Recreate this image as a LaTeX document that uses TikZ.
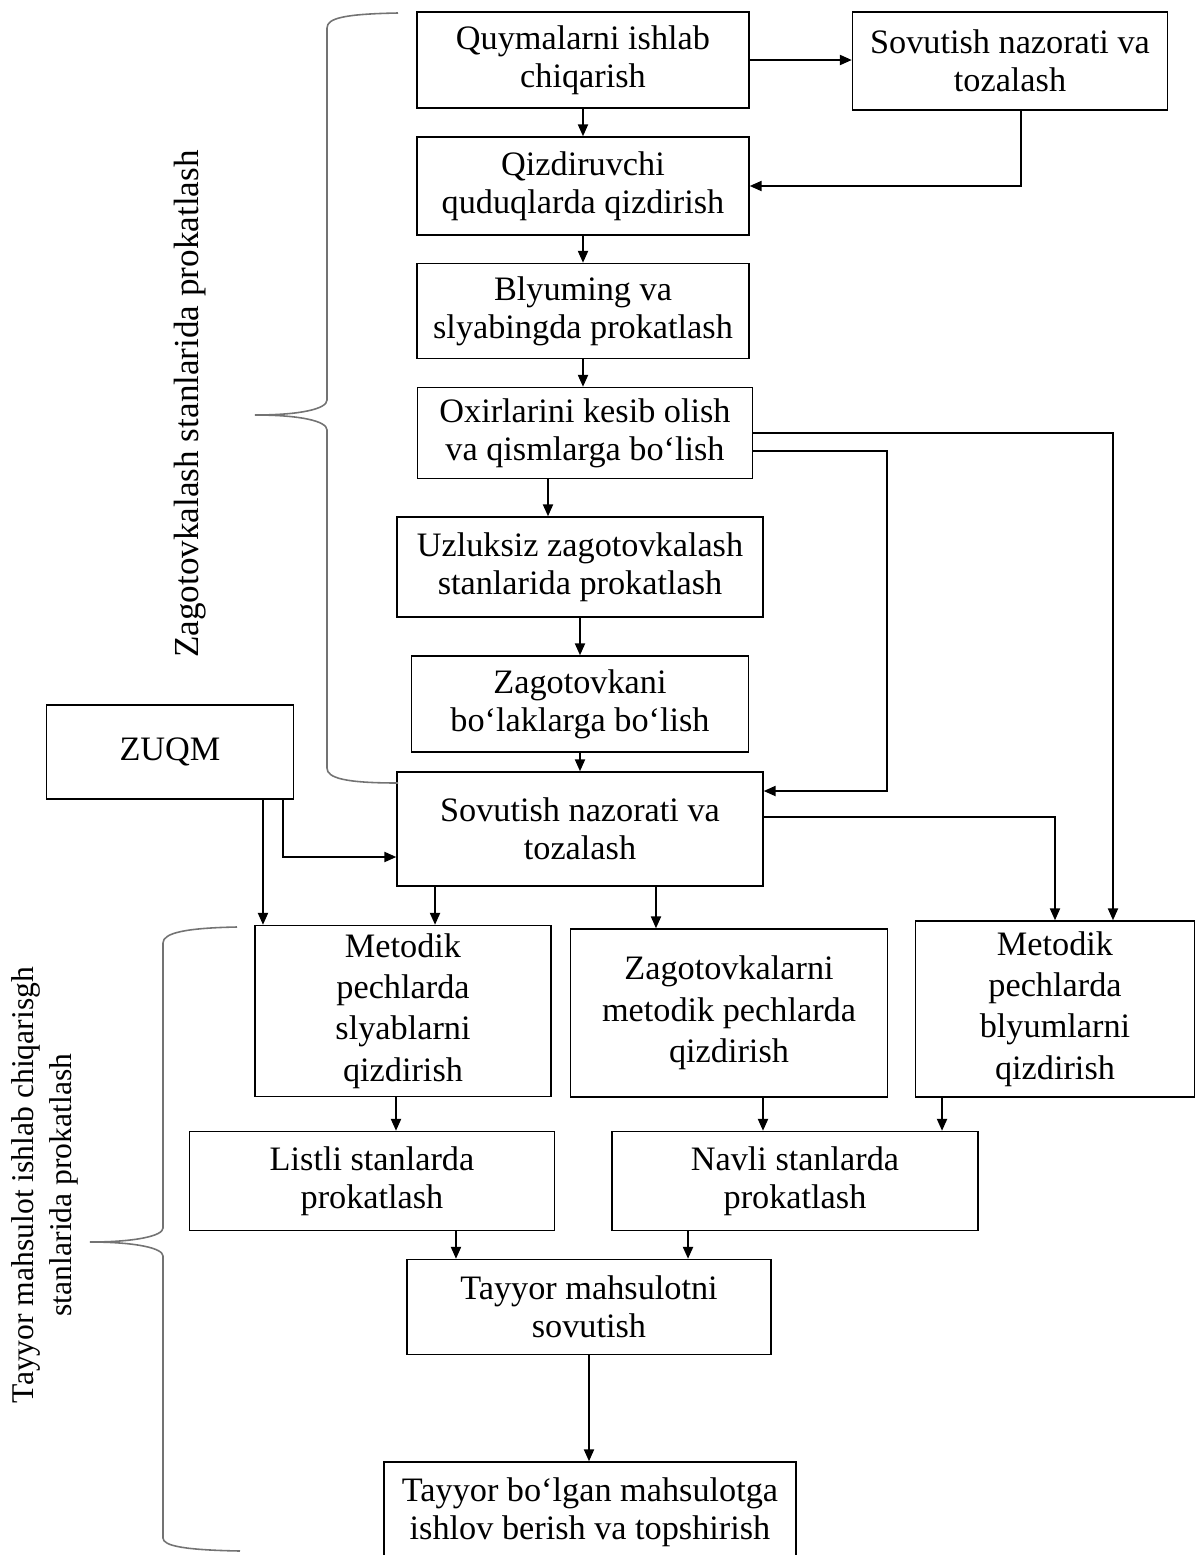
\documentclass[tikz,border=0pt]{standalone}
\usepackage{fontspec}
\setmainfont{Liberation Serif}
\usepackage{tikz}
\usetikzlibrary{arrows.meta}
\usetikzlibrary{positioning}

\tikzset{
  blok/.style={draw,line width=0.8pt,align=center,inner sep=0pt,
    font=\fontsize{19.5}{21.5}\selectfont},
  baland/.style={blok,font=\fontsize{19.5}{23.5}\selectfont},
  strel/.style={-{Triangle[length=2.4mm,width=2mm]},line width=1.2pt},
  qavs/.style={draw=black!55,line width=0.9pt}
}

\begin{document}
\begin{tikzpicture}[x=0.02cm,y=-0.02cm]
  \useasboundingbox (0,0) rectangle (1201,1555);

  % yuqori qism
  \node[blok,minimum width=6.64cm,minimum height=1.92cm] at (583,60) (quyma) {Quymalarni ishlab\\chiqarish};
  \node[blok,minimum width=6.3cm,minimum height=1.96cm] at (1010,61) (sovut1) {Sovutish nazorati va\\tozalash};
  \node[blok,minimum width=6.64cm,minimum height=1.96cm] at (583,186) (qizdir) {Qizdiruvchi\\quduqlarda qizdirish};
  \node[blok,minimum width=6.64cm,minimum height=1.9cm] at (583,311) (blyum) {Blyuming va\\slyabingda prokatlash};
  \node[blok,minimum width=6.7cm,minimum height=1.82cm] at (585,433) (oxir) {Oxirlarini kesib olish\\va qismlarga bo‘lish};
  \node[blok,minimum width=7.32cm,minimum height=2cm] at (580,567) (uzluk) {Uzluksiz zagotovkalash\\stanlarida prokatlash};
  \node[blok,minimum width=6.74cm,minimum height=1.92cm] at (580,704) (zagot) {Zagotovkani\\bo‘laklarga bo‘lish};
  \node[blok,minimum width=4.94cm,minimum height=1.88cm] at (170,752) (zuqm) {ZUQM};
  \node[blok,minimum width=7.32cm,minimum height=2.28cm] at (580,829) (sovut2) {Sovutish nazorati va\\tozalash};

  % pastki qism
  \node[baland,minimum width=5.92cm,minimum height=3.42cm] at (403,1011) (metod1) {Metodik\\pechlarda\\slyablarni\\qizdirish};
  \node[baland,minimum width=6.34cm,minimum height=3.36cm] at (729,1013) (zagmet) {Zagotovkalarni\\metodik pechlarda\\qizdirish};
  \node[baland,minimum width=5.58cm,minimum height=3.52cm] at (1055,1009) (metod2) {Metodik\\pechlarda\\blyumlarni\\qizdirish};
  \node[blok,minimum width=7.3cm,minimum height=1.98cm] at (372,1181) (listli) {Listli stanlarda\\prokatlash};
  \node[blok,minimum width=7.32cm,minimum height=1.98cm] at (795,1181) (navli) {Navli stanlarda\\prokatlash};
  \node[blok,minimum width=7.28cm,minimum height=1.9cm] at (589,1307) (tayyor) {Tayyor mahsulotni\\sovutish};
  \node[blok,minimum width=8.24cm,minimum height=2cm] at (590,1512) (topsh) {Tayyor bo‘lgan mahsulotga\\ishlov berish va topshirish};

  % yon yozuvlar
  \node[rotate=90,font=\fontsize{20}{24}\selectfont] at (190,404) (yoz1) {Zagotovkalash stanlarida prokatlash};
  \node[rotate=90,align=center,font=\fontsize{18}{22}\selectfont] at (45,1185) (yoz2) {Tayyor mahsulot ishlab chiqarisgh\\stanlarida prokatlash};

  % qavslar
  \draw[qavs] (398,13) .. controls (345,14) and (327,18) .. (327,28) -- (327,400)
    .. controls (327,409) and (300,415) .. (255,415)
    .. controls (300,415) and (327,421) .. (327,430) -- (327,768)
    .. controls (327,778) and (345,783) .. (398,783);
  \draw[qavs] (237,927) .. controls (185,928) and (163,933) .. (163,943) -- (163,1228)
    .. controls (163,1236) and (135,1242) .. (90,1242)
    .. controls (135,1242) and (163,1248) .. (163,1256) -- (163,1538)
    .. controls (163,1546) and (185,1550) .. (240,1551);

  % strelkalar
  \draw[strel] (quyma.east) -- (quyma.east -| sovut1.west);
  \draw[strel] (quyma.south) -- (qizdir.north);
  \draw[strel] ([xshift=0.22cm]sovut1.south) |- (qizdir.east);
  \draw[strel] (qizdir.south) -- (blyum.north);
  \draw[strel] (blyum.south) -- (blyum.south |- oxir.north);
  \draw[strel] ([xshift=-0.74cm]oxir.south) -- ([xshift=-0.74cm]oxir.south |- uzluk.north);
  \draw[strel] (oxir.east) -| ([xshift=1.16cm]metod2.north);
  \draw[strel] ([yshift=-0.36cm]oxir.east) -- ++(134,0) |- ([yshift=0.76cm]sovut2.east);
  \draw[strel] (uzluk.south) -- (zagot.north);
  \draw[strel] (zagot.south) -- (sovut2.north);
  \draw[strel] ([yshift=0.24cm]sovut2.east) -| (metod2.north);
  \draw[strel] ([xshift=1.86cm]zuqm.south) -- ([xshift=1.86cm]zuqm.south |- metod1.north);
  \draw[strel] ([xshift=2.26cm]zuqm.south) |- ([yshift=-0.56cm]sovut2.west);
  \draw[strel] ([xshift=-2.9cm]sovut2.south) -- ([xshift=-2.9cm]sovut2.south |- metod1.north);
  \draw[strel] ([xshift=1.52cm]sovut2.south) -- ([xshift=1.52cm]sovut2.south |- zagmet.north);
  \draw[strel] ([xshift=-0.14cm]metod1.south) -- ([xshift=-0.14cm]metod1.south |- listli.north);
  \draw[strel] ([xshift=0.68cm]zagmet.south) -- ([xshift=0.68cm]zagmet.south |- navli.north);
  \draw[strel] ([xshift=-2.26cm]metod2.south) -- ([xshift=-2.26cm]metod2.south |- navli.north);
  \draw[strel] ([xshift=1.68cm]listli.south) -- ([xshift=1.68cm]listli.south |- tayyor.north);
  \draw[strel] ([xshift=-2.14cm]navli.south) -- ([xshift=-2.14cm]navli.south |- tayyor.north);
  \draw[strel] (tayyor.south) -- (tayyor.south |- topsh.north);
\end{tikzpicture}
\end{document}
